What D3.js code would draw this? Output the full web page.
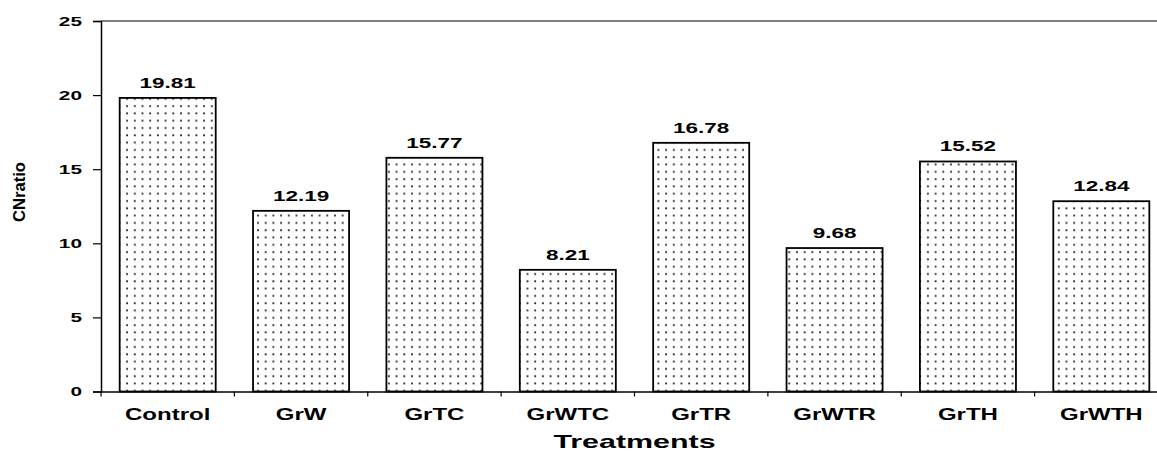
<!DOCTYPE html>
<html><head><meta charset="utf-8">
<script src="https://cdn.jsdelivr.net/npm/d3@7"></script>
<style>
html,body{margin:0;padding:0;background:#fff;overflow:hidden}
text{font-family:"Liberation Sans",Arial,sans-serif;font-weight:bold;fill:#000}
</style></head>
<body><svg id="c" width="1157" height="453"></svg>
<script>
const categories = ["Control","GrW","GrTC","GrWTC","GrTR","GrWTR","GrTH","GrWTH"];
const values = [19.81,12.19,15.77,8.21,16.78,9.68,15.52,12.84];
const yTicks = [0,5,10,15,20,25];

const svg = d3.select("#c");
const mLeft = 101, mRight = 1168, mTop = 21, mBottom = 391.5;
const x = d3.scaleBand().domain(categories).range([mLeft,mRight]).paddingInner(0.28).paddingOuter(0.14);
const y = d3.scaleLinear().domain([0,25]).range([mBottom,mTop]);

function stretch(sel, k){
  sel.each(function(){
    const w = this.getComputedTextLength();
    d3.select(this).attr("textLength", w*k).attr("lengthAdjust","spacingAndGlyphs");
  });
}

const defs = svg.append("defs");
const pat = defs.append("pattern").attr("id","dots").attr("patternUnits","userSpaceOnUse")
  .attr("width",7.7).attr("height",7.3);
pat.append("rect").attr("width",7.7).attr("height",7.3).attr("fill","#fff");
pat.append("rect").attr("x",3).attr("y",3).attr("width",1.8).attr("height",1.8).attr("fill","#222");

// top border
svg.append("line").attr("x1",mLeft).attr("x2",mRight).attr("y1",y(25)).attr("y2",y(25))
  .attr("stroke","#555").attr("stroke-width",1.5);

// bars
svg.selectAll("rect.bar").data(values).join("rect").attr("class","bar")
  .attr("x",(d,i)=>x(categories[i])).attr("width",x.bandwidth())
  .attr("y",d=>y(d)).attr("height",d=>y(0)-y(d))
  .attr("fill","url(#dots)").attr("stroke","#000").attr("stroke-width",1.8);

// value labels
const vl = svg.selectAll("text.val").data(values).join("text").attr("class","val")
  .attr("x",(d,i)=>x(categories[i])+x.bandwidth()/2).attr("y",d=>y(d)-10)
  .attr("text-anchor","middle").style("font-size","15px").text(d=>d.toFixed(2));
stretch(vl, 1.5);

// y axis
const ya = svg.append("g").attr("transform",`translate(${mLeft},0)`)
  .call(d3.axisLeft(y).tickValues(yTicks).tickSize(8).tickPadding(11));
ya.select(".domain").attr("stroke","#000").attr("stroke-width",1.5);
ya.selectAll(".tick line").attr("stroke","#000").attr("stroke-width",1.2);
const yt = ya.selectAll(".tick text").style("font-size","13px").style("font-family","Liberation Sans, Arial, sans-serif").style("font-weight","bold");
stretch(yt, 1.6);

// x axis
const xa = svg.append("g").attr("transform",`translate(0,${mBottom})`)
  .call(d3.axisBottom(x).tickSize(0));
xa.select(".domain").attr("stroke","#000").attr("stroke-width",1.5);
const xt = xa.selectAll(".tick text").attr("y",28.5).attr("dy",0)
  .style("font-size","16px").style("font-family","Liberation Sans, Arial, sans-serif").style("font-weight","bold");
stretch(xt, 1.5);
// boundary ticks between categories
const bounds = d3.range(categories.length+1).map(i=>mLeft + i*x.step());
svg.append("g").selectAll("line").data(bounds).join("line")
  .attr("x1",d=>d).attr("x2",d=>d).attr("y1",mBottom).attr("y2",mBottom+5)
  .attr("stroke","#000").attr("stroke-width",1.2);

// titles
const xtTitle = svg.append("text").attr("x",(mLeft+mRight)/2).attr("y",448).attr("text-anchor","middle")
  .style("font-size","19px").text("Treatments");
stretch(xtTitle, 1.6);
svg.append("text").attr("transform","translate(25,192) rotate(-90)").attr("text-anchor","middle")
  .attr("textLength",60).attr("lengthAdjust","spacingAndGlyphs")
  .style("font-size","16px").text("CNratio");
</script></body></html>
